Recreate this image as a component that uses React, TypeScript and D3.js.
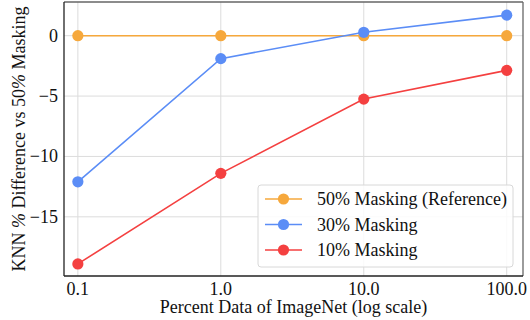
import React from 'react';
import * as d3 from 'd3';

// data
const percents = [0.1, 1.0, 10.0, 100.0];
const tickLabels = ['0.1', '1.0', '10.0', '100.0'];
const yTicks = [0, -5, -10, -15];
const ref50 = [0, 0, 0, 0];
const mask30 = [-12.1, -1.9, 0.28, 1.7];
const mask10 = [-18.9, -11.4, -5.25, -2.87];

const seriesNames = ['50% Masking (Reference)', '30% Masking', '10% Masking'];
const seriesColors = ['#f6a83c', '#5b8df6', '#f44040'];
const seriesValues = [ref50, mask30, mask10];

const W = 530;
const H = 320;
const margin = { top: 2, right: 7, bottom: 44, left: 64 };
const serif = '"Liberation Serif"';
const label = { fontFamily: serif, fontSize: 18 };

const App = () => {
  const x = d3
    .scaleLog()
    .domain([0.1 / Math.pow(10, 0.097), 100 * Math.pow(10, 0.114)])
    .range([margin.left, W - margin.right]);
  const y = d3
    .scaleLinear()
    .domain([-19.9, 2.79])
    .range([H - margin.bottom, margin.top]);

  const line = d3
    .line<number>()
    .x((_, i) => x(percents[i]))
    .y((d) => y(d));

  const left = margin.left;
  const right = W - margin.right;
  const top = margin.top;
  const bottom = H - margin.bottom;

  // legend placement
  const lgX = 258;
  const lgY = 185;
  const lgW = 255;
  const lgH = 82;
  const rowGap = 25.5;

  return (
    <svg width={W} height={H} style={{ display: 'block', position: 'absolute', left: 0, top: 0, background: '#fff', fontFamily: serif }}>
      {/* grid */}
      {percents.map((p) => (
        <line key={'gx' + p} x1={x(p)} x2={x(p)} y1={top} y2={bottom} stroke="#dcdcdc" strokeWidth={1} />
      ))}
      {yTicks.map((t) => (
        <line key={'gy' + t} x1={left} x2={right} y1={y(t)} y2={y(t)} stroke="#dcdcdc" strokeWidth={1} />
      ))}

      {/* series */}
      {seriesValues.map((vals, s) => (
        <g key={seriesNames[s]}>
          <path d={line(vals) || ''} fill="none" stroke={seriesColors[s]} strokeWidth={1.6} />
          {vals.map((v, i) => (
            <circle key={i} cx={x(percents[i])} cy={y(v)} r={5.6} fill={seriesColors[s]} />
          ))}
        </g>
      ))}

      {/* spines */}
      <line x1={left} x2={right} y1={top} y2={top} stroke="#666" strokeWidth={1.3} />
      <line x1={right} x2={right} y1={top} y2={bottom} stroke="#666" strokeWidth={1.3} />
      <line x1={left} x2={left} y1={top} y2={bottom} stroke="#222" strokeWidth={1.3} />
      <line x1={left} x2={right} y1={bottom} y2={bottom} stroke="#222" strokeWidth={1.3} />

      {/* tick labels */}
      {percents.map((p, i) => (
        <text key={'tx' + p} x={x(p)} y={bottom + 19} textAnchor="middle" style={label} fill="#111">
          {tickLabels[i]}
        </text>
      ))}
      {yTicks.map((t) => (
        <text key={'ty' + t} x={left - 6} y={y(t) + 6} textAnchor="end" style={label} fill="#111">
          {t < 0 ? '\u2212' + Math.abs(t) : String(t)}
        </text>
      ))}

      {/* axis titles */}
      <text x={(left + right) / 2} y={313} textAnchor="middle" style={label} fill="#111">
        Percent Data of ImageNet (log scale)
      </text>
      <text transform={`translate(25,${(top + bottom) / 2}) rotate(-90)`} textAnchor="middle" style={label} fill="#111">
        KNN <tspan fontStyle="italic">%</tspan> Difference vs 50<tspan fontStyle="italic">%</tspan> Masking
      </text>

      {/* legend */}
      <rect x={lgX} y={lgY} width={lgW} height={lgH} rx={3} fill="#fff" fillOpacity={0.85} stroke="#d8d8d8" />
      {seriesNames.map((name, s) => {
        const cy = lgY + 14 + s * rowGap;
        return (
          <g key={'lg' + name}>
            <line x1={lgX + 7} x2={lgX + 44} y1={cy} y2={cy} stroke={seriesColors[s]} strokeWidth={1.6} />
            <circle cx={lgX + 25.5} cy={cy} r={5.6} fill={seriesColors[s]} />
            <text x={lgX + 59} y={cy + 6} style={label} fill="#111">
              {name}
            </text>
          </g>
        );
      })}
    </svg>
  );
};

export default App;
